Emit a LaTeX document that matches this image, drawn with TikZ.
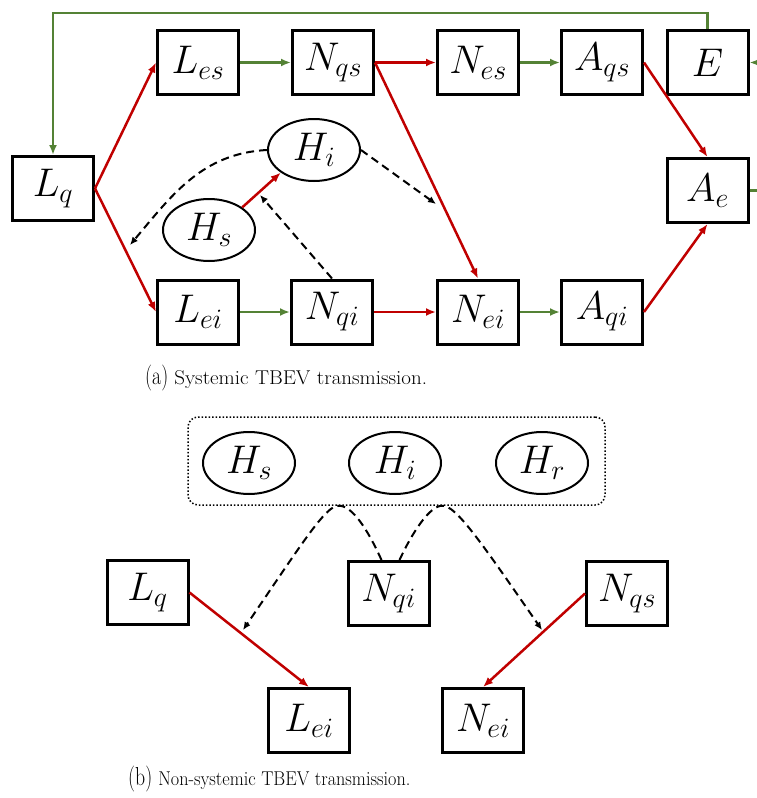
\RequirePackage{fix-cm}
\documentclass[tikz,border=0pt]{standalone}
\usetikzlibrary{arrows.meta,shapes.geometric}
\definecolor{tred}{RGB}{192,0,0}
\definecolor{tgreen}{RGB}{84,130,53}

\begin{document}
\begin{tikzpicture}[x=1pt,y=1pt,
  comp/.style={draw, line width=3pt, minimum width=81pt, minimum height=64pt,
    inner sep=0pt, font=\fontsize{40}{44}\selectfont},
  host/.style={ellipse, draw, line width=2pt, minimum width=92pt, minimum height=62pt,
    inner sep=0pt, font=\fontsize{40}{44}\selectfont},
  redarr/.style={draw=tred, line width=2.5pt, -{Latex[length=10pt,width=8pt]}},
  grnarr/.style={draw=tgreen, line width=2.5pt, -{Latex[length=10pt,width=8pt]}},
  dasharr/.style={draw=black, line width=2pt, dash pattern=on 8pt off 5pt,
    -{Latex[length=8pt,width=7pt]}},
  caption/.style={anchor=base west, inner sep=0pt}
]
\useasboundingbox (0,0) rectangle (757,-798);

% ---------- (a) systemic transmission ----------
\node[comp] (lq)  at (53,-188.5)  {$L_q$};
\node[comp] (les) at (198,-62.5)  {$L_{es}$};
\node[comp] (nqs) at (333,-62.5)  {$N_{qs}$};
\node[comp] (nes) at (478,-62.5)  {$N_{es}$};
\node[comp] (aqs) at (602,-62.5)  {$A_{qs}$};
\node[comp] (e)   at (707.5,-62.5) {$E$};
\node[comp] (ae)  at (707.5,-190.5) {$A_e$};
\node[comp] (lei) at (198,-312)   {$L_{ei}$};
\node[comp] (nqi) at (332,-312)   {$N_{qi}$};
\node[comp] (nei) at (478,-312)   {$N_{ei}$};
\node[comp] (aqi) at (602,-312)   {$A_{qi}$};
\node[host] (hi)  at (314,-150)   {$H_i$};
\node[host] (hs)  at (209,-230)   {$H_s$};

% red: infection / progression
\draw[redarr] (lq.east) -- (les.west);
\draw[redarr] (lq.east) -- (lei.west);
\draw[redarr] (nqs.east) -- (nes.west);
\draw[redarr] (nqs.east) -- (nei.north);
\draw[redarr] (aqs.east) -- (ae.north);
\draw[redarr] (aqi.east) -- (ae.south);
\draw[redarr] (nqi.east) -- (nei.west);
\draw[redarr] (hs.north east) -- (hi.south west);

% green: development
\draw[grnarr] (les.east) -- (nqs.west);
\draw[grnarr] (nes.east) -- (aqs.west);
\draw[grnarr] (lei.east) -- (nqi.west);
\draw[grnarr] (nei.east) -- (aqi.west);

% egg-laying loop back to questing larvae
\coordinate (top) at (0,-13);
\draw[grnarr] (e.north) -- (e.north |- top) -| (lq.north);
\draw[grnarr] (ae.east) -- ++(25,0) |- (e.east);

% dashed: host-mediated transmission
\coordinate (dA) at (130,-245);
\coordinate (dB) at (436,-204);
\coordinate (dC) at (260,-195);
\draw[dasharr] (hi.west) to[out=183,in=50] (dA);
\draw[dasharr] (hi.east) -- (dB);
\draw[dasharr] (nqi.north) -- (dC);

\node[caption] (capa) at (145,-384)
  {\fontsize{26}{30}\selectfont\scalebox{0.76}[1]{(a)}\fontsize{20}{24}\selectfont\ \scalebox{1.05}[1]{Systemic TBEV transmission.}};

% ---------- (b) non-systemic transmission ----------
\node[draw, line width=1.5pt, dash pattern=on 1.5pt off 2pt, rounded corners=10pt,
  minimum width=417pt, minimum height=88pt, inner sep=0pt] (hosts) at (396.5,-461) {};
\node[host] (bhs) at (249,-463) {$H_s$};
\node[host] (bhi) at (395,-463) {$H_i$};
\node[host] (bhr) at (542,-463) {$H_r$};

\node[comp] (blq)  at (147.5,-592.5) {$L_q$};
\node[comp] (bnqi) at (388.5,-593.5) {$N_{qi}$};
\node[comp] (bnqs) at (627,-593.5)   {$N_{qs}$};
\node[comp] (blei) at (309,-720.5)   {$L_{ei}$};
\node[comp] (bnei) at (483,-720.5)   {$N_{ei}$};

\draw[redarr] (blq.east) -- (blei.north);
\draw[redarr] (bnqs.west) -- (bnei.north);

\coordinate (pL) at ([xshift=-58pt]hosts.south);
\coordinate (pR) at ([xshift=46pt]hosts.south);
\coordinate (eL) at (243,-630);
\coordinate (eR) at (542,-630);
\draw[dasharr] ([xshift=-7pt]bnqi.north) .. controls (368,-530) and (352,-505) .. (pL)
  .. controls (326,-505) and (301,-545) .. (eL);
\draw[dasharr] ([xshift=11pt]bnqi.north) .. controls (412,-533) and (430,-505) .. (pR)
  .. controls (456,-505) and (483,-545) .. (eR);

\node[caption] (capb) at (128,-785)
  {\fontsize{26}{30}\selectfont\scalebox{0.76}[1]{(b)}\fontsize{20}{24}\selectfont\ \scalebox{0.91}[1]{Non-systemic TBEV transmission.}};
\end{tikzpicture}
\end{document}
